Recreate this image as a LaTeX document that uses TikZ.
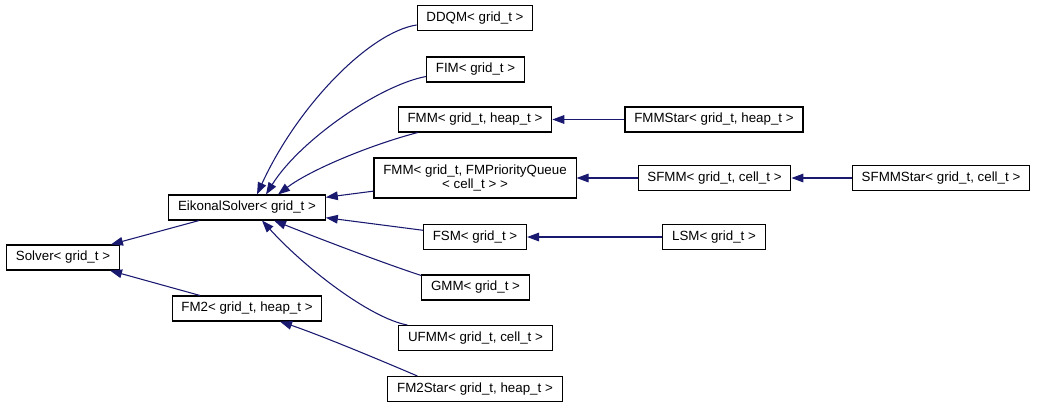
\documentclass[tikz,border=0pt]{standalone}
\usepackage{fontspec}
\setmainfont{Liberation Sans}
\usepackage{xcolor}
\usetikzlibrary{arrows.meta,calc}
\definecolor{edgeblue}{RGB}{25,25,112}

\begin{document}
\begin{tikzpicture}[x=0.75pt,y=0.75pt,yscale=-1,xscale=1,
  cls/.style={draw=black,line width=0.8pt,fill=white,inner xsep=7pt,inner ysep=0pt,minimum height=18.75pt,font=\fontsize{10}{11}\selectfont},
  edge/.style={draw=edgeblue,line width=0.8pt,-{Triangle[length=9pt,width=6.5pt]}}]
\useasboundingbox (0,0) rectangle (1037,408);
%Base classes
\node[cls] (solver) at (63,257.5) {Solver< grid\_t >};
\node[cls] (eik) at (247,207.5) {EikonalSolver< grid\_t >};
\node[cls] (fm2) at (247,308.5) {FM2< grid\_t, heap\_t >};
%Eikonal children
\node[cls] (ddqm) at (475,18) {DDQM< grid\_t >};
\node[cls] (fim) at (475.5,69.5) {FIM< grid\_t >};
\node[cls] (fmm) at (475,119.5) {FMM< grid\_t, heap\_t >};
\node[cls,align=center,minimum height=30pt] (fmmpq) at (475,178) {FMM< grid\_t, FMPriorityQueue\\< cell\_t > >};
\node[cls] (fsm) at (475,237) {FSM< grid\_t >};
\node[cls] (gmm) at (475.5,287.5) {GMM< grid\_t >};
\node[cls] (ufmm) at (475.5,338) {UFMM< grid\_t, cell\_t >};
\node[cls] (fm2star) at (475,389) {FM2Star< grid\_t, heap\_t >};
%Right column
\node[cls] (fmmstar) at (714,119.5) {FMMStar< grid\_t, heap\_t >};
\node[cls] (sfmm) at (714.5,178) {SFMM< grid\_t, cell\_t >};
\node[cls] (sfmmstar) at (941,178) {SFMMStar< grid\_t, cell\_t >};
\node[cls] (lsm) at (714,237) {LSM< grid\_t >};
%Straight Lines
\draw[edge] (eik) -- (solver);
\draw[edge] (fm2) -- (solver);
\draw[edge] (fmmpq) -- (eik);
\draw[edge] (fsm) -- (eik);
\draw[edge] (fmmstar) -- (fmm);
\draw[edge] (sfmm) -- (fmmpq);
\draw[edge] (sfmmstar) -- (sfmm);
\draw[edge] (lsm) -- (fsm);
%Curves
\draw[edge] ($(ddqm.west)+(0,7)$) .. controls (370,32) and (298,105) .. ($(eik.north)+(10,0)$);
\draw[edge] ($(fim.west)+(0,7)$) .. controls (380,85) and (300,140) .. ($(eik.north)+(19,0)$);
\draw[edge] ($(fmm.south west)+(20,0)$) .. controls (370,145) and (310,170) .. ($(eik.north)+(31,0)$);
\draw[edge] ($(gmm.north west)+(0,1)$) .. controls (380,262) and (310,235) .. ($(eik.south)+(27,0)$);
\draw[edge] ($(ufmm.north west)+(9,0)$) .. controls (370,318) and (305,268) .. ($(eik.south)+(15,0)$);
\draw[edge] ($(fm2star.north west)+(30,0)$) .. controls (380,360) and (320,335) .. ($(fm2.south)+(33,0)$);
\end{tikzpicture}
\end{document}
